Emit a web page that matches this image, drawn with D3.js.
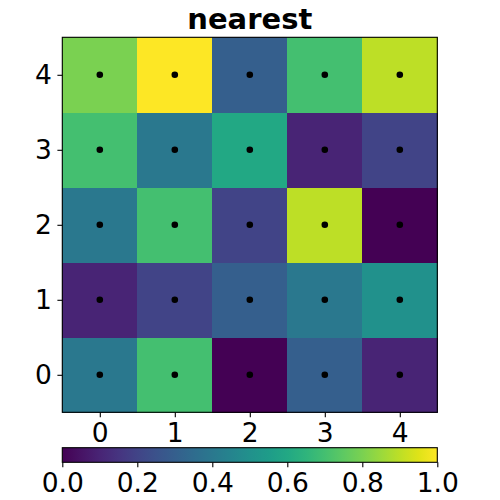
<!DOCTYPE html>
<html><head><meta charset="utf-8">
<script src="https://cdn.jsdelivr.net/npm/d3@7"></script>
<style>body{margin:0;background:#fff}svg{display:block}</style>
</head><body>
<script>
const title = "nearest";
const xCats = [0,1,2,3,4];
const yCats = [0,1,2,3,4];
// values[row y][col x]
const row0 = [0.4, 0.7, 0.0, 0.3, 0.1];
const row1 = [0.1, 0.2, 0.3, 0.4, 0.5];
const row2 = [0.4, 0.7, 0.2, 0.9, 0.0];
const row3 = [0.7, 0.4, 0.6, 0.1, 0.2];
const row4 = [0.8, 1.0, 0.3, 0.7, 0.9];
const rows = [row0, row1, row2, row3, row4];
const cbTicks = [0.0, 0.2, 0.4, 0.6, 0.8, 1.0];

const W = 500, H = 500;
const L = 62.3, R = 437.3, T = 37.3, B = 412.3;
const svg = d3.select("body").append("svg").attr("width", W).attr("height", H);
const font = "DejaVu Sans";
const fs = 26.5;

const x = d3.scaleLinear().domain([-0.5, 4.5]).range([L, R]);
const y = d3.scaleLinear().domain([-0.5, 4.5]).range([B, T]);
const color = d3.scaleSequential(d3.interpolateViridis).domain([0, 1]);

const cells = [];
rows.forEach((r, yi) => r.forEach((v, xi) => cells.push({x: xCats[xi], y: yCats[yi], v})));

svg.append("g").selectAll("rect").data(cells).join("rect")
  .attr("x", d => x(d.x - 0.5)).attr("y", d => y(d.y + 0.5))
  .attr("width", x(1) - x(0) + 0.3).attr("height", y(0) - y(1) + 0.3)
  .attr("fill", d => color(d.v)).attr("shape-rendering", "crispEdges");

svg.append("g").selectAll("circle").data(cells).join("circle")
  .attr("cx", d => x(d.x)).attr("cy", d => y(d.y)).attr("r", 3.3).attr("fill", "#000");

svg.append("rect").attr("x", L).attr("y", T).attr("width", R - L).attr("height", B - T)
  .attr("fill", "none").attr("stroke", "#000").attr("stroke-width", 1.1);

const xAxis = svg.append("g").attr("transform", `translate(0,${B})`)
  .call(d3.axisBottom(x).tickValues(xCats).tickFormat(d3.format("d")).tickSize(4.9).tickPadding(6));
const yAxis = svg.append("g").attr("transform", `translate(${L},0)`)
  .call(d3.axisLeft(y).tickValues(yCats).tickFormat(d3.format("d")).tickSize(4.9).tickPadding(5.5));
[xAxis, yAxis].forEach(a => {
  a.select(".domain").remove();
  a.selectAll("line").attr("stroke", "#000").attr("stroke-width", 1.1);
  a.selectAll("text").attr("font-family", font).attr("font-size", fs).attr("fill", "#000");
});

svg.append("text").attr("x", (L + R) / 2).attr("y", 29)
  .attr("text-anchor", "middle").attr("font-family", font).attr("font-weight", "bold")
  .attr("font-size", 29).text(title);

// colorbar
const cT = 447.7, cB = 462.3;
const defs = svg.append("defs");
const grad = defs.append("linearGradient").attr("id", "vir").attr("x1", "0%").attr("x2", "100%");
d3.range(0, 1.0001, 0.05).forEach(t => grad.append("stop").attr("offset", (t * 100) + "%").attr("stop-color", color(t)));
const cx = d3.scaleLinear().domain([0, 1]).range([L, R]);
svg.append("rect").attr("x", L).attr("y", cT).attr("width", R - L).attr("height", cB - cT)
  .attr("fill", "url(#vir)").attr("stroke", "#000").attr("stroke-width", 1.1);
const cAxis = svg.append("g").attr("transform", `translate(0,${cB})`)
  .call(d3.axisBottom(cx).tickValues(cbTicks).tickFormat(d3.format(".1f")).tickSize(4.9).tickPadding(5.5));
cAxis.select(".domain").remove();
cAxis.selectAll("line").attr("stroke", "#000").attr("stroke-width", 1.1);
cAxis.selectAll("text").attr("font-family", font).attr("font-size", fs).attr("fill", "#000");
</script>
</body></html>
